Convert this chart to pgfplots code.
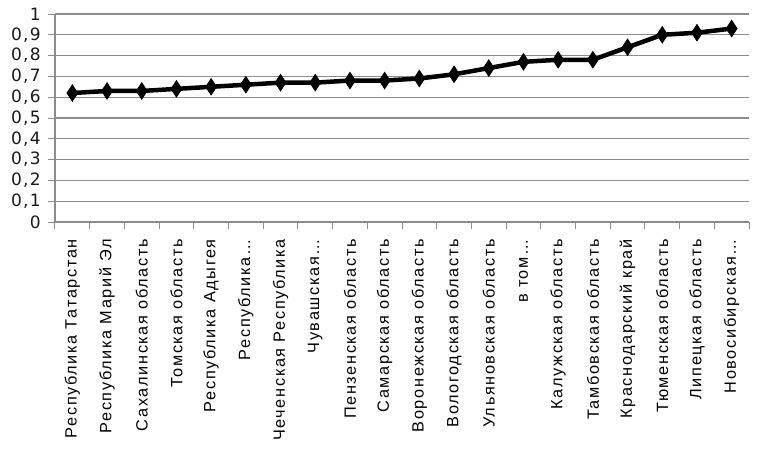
\documentclass[border=0pt]{standalone}
\usepackage{fontspec}
\setmainfont{Liberation Sans}
\newfontfamily\lblfont[LetterSpace=10]{Liberation Sans}
\newfontfamily\numfont[LetterSpace=8]{DejaVu Sans}
\usepackage{pgfplots}
\pgfplotsset{compat=1.18}
\definecolor{gridgray}{RGB}{140,140,140}
\begin{document}
\begin{tikzpicture}
\begin{axis}[
  name=ax,
  scale only axis,
  width=694pt, height=208pt,
  xmin=-0.5, xmax=19.5,
  ymin=0, ymax=1,
  ytick={0,0.1,...,1},
  /pgf/number format/use comma,
  /pgf/number format/fixed,
  /pgf/number format/precision=1,
  /pgf/number format/assume math mode=true,
  ymajorgrids,
  major grid style={gridgray, line width=1.3pt},
  axis line style={gridgray, line width=1.3pt},
  axis x line*=bottom,
  axis y line*=left,
  xtick={0,...,19},
  major x tick style={draw=none},
  minor xtick={-0.5,0.5,...,19.5},
  minor x tick style={gridgray, line width=1pt},
  minor tick length=7pt,
  major tick length=7pt,
  tick align=outside,
  y tick style={gridgray, line width=1pt},
  xticklabels={Республика Татарстан,Республика Марий Эл,Сахалинская область,Томская область,Республика Адыгея,Республика\ldots,Чеченская Республика,Чувашская\ldots,Пензенская область,Самарская область,Воронежская область,Вологодская область,Ульяновская область,в том\ldots,Калужская область,Тамбовская область,Краснодарский край,Тюменская область,Липецкая область,Новосибирская\ldots},
  xticklabel shift=8pt,
  xticklabel style={rotate=90, anchor=east, font=\lblfont\fontsize{16.3}{17}\selectfont, text=black, inner sep=2pt},
  yticklabel shift=6pt,
  yticklabel style={font=\numfont\fontsize{17}{18}\selectfont, text=black!90, inner sep=1pt},
  clip=false,
]
\addplot[black, line width=4.5pt, mark=diamond*, mark size=7pt, mark options={line width=1pt, fill=black, yscale=1.15}]
coordinates {
(0,0.62)(1,0.63)(2,0.63)(3,0.64)(4,0.65)(5,0.66)(6,0.67)(7,0.67)(8,0.68)(9,0.68)
(10,0.69)(11,0.71)(12,0.74)(13,0.77)(14,0.78)(15,0.78)(16,0.84)(17,0.90)(18,0.91)(19,0.93)
};
\end{axis}
\pgfresetboundingbox
\path[use as bounding box] ([xshift=-55pt,yshift=-233pt]ax.south west) rectangle ([xshift=23pt,yshift=14pt]ax.north east);
\end{tikzpicture}
\end{document}
